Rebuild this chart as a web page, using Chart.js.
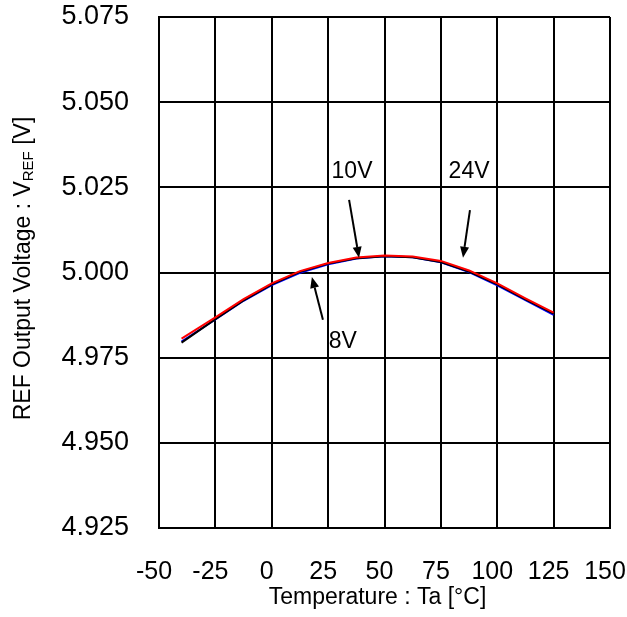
<!DOCTYPE html>
<html>
<head>
<meta charset="utf-8">
<script src="https://cdn.jsdelivr.net/npm/chart.js@4"></script>
<style>
  html, body { margin: 0; padding: 0; background: #fff; }
  #wrap { width: 627px; height: 617px; position: relative; }
</style>
</head>
<body>
<div id="wrap"><canvas id="chart"></canvas></div>
<script>
const FONT = "'Liberation Sans', Arial, Helvetica, sans-serif";

// temperature points [°C]
const temps = [-40, -25, -12.5, 0, 12.5, 25, 37.5, 50, 62.5, 75, 87.5, 100, 112.5, 125];
// REF output voltage [V] per supply voltage
const vRed = [4.9806, 4.9868, 4.9922, 4.9968, 5.0004, 5.0028, 5.0044, 5.0050, 5.0047, 5.0034, 5.0006, 4.9968, 4.9924, 4.9882];
const vBlack = [4.9794, 4.9863, 4.9918, 4.9965, 5.0002, 5.0026, 5.0042, 5.0048, 5.0045, 5.0031, 5.0003, 4.9965, 4.9921, 4.9879];
const vBlue = [4.9797, 4.9862, 4.9917, 4.9963, 4.9999, 5.0024, 5.0041, 5.0048, 5.0045, 5.0030, 5.0001, 4.9962, 4.9919, 4.9876];

const xTicks = [-50, -25, 0, 25, 50, 75, 100, 125, 150];
const yTicks = [4.925, 4.950, 4.975, 5.000, 5.025, 5.050, 5.075];

// callouts: label position, arrow tail and tip, in data units
const notes = [
  { text: "10V", at: [35.6, 5.0295], from: [34.3, 5.0213], to: [38.7, 5.0043] },
  { text: "24V", at: [87.5, 5.0295], from: [87.9, 5.0183], to: [84.8, 5.0043] },
  { text: "8V", at: [31.5, 4.9797], from: [22.7, 4.9861], to: [17.8, 4.9987] },
];

function drawArrow(ctx, x1, y1, x2, y2) {
  const ang = Math.atan2(y2 - y1, x2 - x1);
  const head = 11, half = 4.5;
  const bx = x2 - head * Math.cos(ang), by = y2 - head * Math.sin(ang);
  ctx.beginPath();
  ctx.moveTo(x1, y1);
  ctx.lineTo(bx, by);
  ctx.stroke();
  ctx.beginPath();
  ctx.moveTo(x2, y2);
  ctx.lineTo(bx + half * Math.sin(ang), by - half * Math.cos(ang));
  ctx.lineTo(bx - half * Math.sin(ang), by + half * Math.cos(ang));
  ctx.closePath();
  ctx.fill();
}

const extras = {
  id: "extras",
  afterDraw(chart) {
    const { ctx, chartArea: a } = chart;
    const xs = chart.scales.x, ys = chart.scales.y;
    ctx.save();
    ctx.fillStyle = "#000";
    ctx.strokeStyle = "#000";
    ctx.lineWidth = 2;

    // callouts
    ctx.font = "23px " + FONT;
    ctx.textAlign = "center";
    ctx.textBaseline = "middle";
    notes.forEach((n) => {
      ctx.fillText(n.text, xs.getPixelForValue(n.at[0]), ys.getPixelForValue(n.at[1]));
      drawArrow(ctx,
        xs.getPixelForValue(n.from[0]), ys.getPixelForValue(n.from[1]),
        xs.getPixelForValue(n.to[0]), ys.getPixelForValue(n.to[1]));
    });

    // x title
    ctx.textBaseline = "alphabetic";
    ctx.fillText("Temperature : Ta [°C]", (a.left + a.right) / 2 - 7, a.bottom + 76);

    // y title with subscript
    const big = "23px " + FONT, small = "15px " + FONT;
    const p1 = "REF Output Voltage : V", p2 = "REF", p3 = " [V]";
    ctx.font = big;
    const w1 = ctx.measureText(p1).width, w3 = ctx.measureText(p3).width;
    ctx.font = small;
    const w2 = ctx.measureText(p2).width;
    ctx.translate(30, (a.top + a.bottom) / 2 - 4);
    ctx.rotate(-Math.PI / 2);
    ctx.textAlign = "left";
    let x0 = -(w1 + w2 + w3) / 2;
    ctx.font = big;
    ctx.fillText(p1, x0, 0);
    ctx.font = small;
    ctx.fillText(p2, x0 + w1, 3);
    ctx.font = big;
    ctx.fillText(p3, x0 + w1 + w2, 0);
    ctx.restore();
  },
};

function lineSet(label, data, color) {
  return {
    label,
    data: temps.map((t, i) => ({ x: t, y: data[i] })),
    borderColor: color,
    backgroundColor: color,
    borderWidth: 2,
    pointRadius: 0,
    tension: 0,
    fill: false,
  };
}

window.addEventListener("DOMContentLoaded", () => {
  Chart.defaults.font.family = FONT;
  Chart.defaults.color = "#000";

  new Chart(document.getElementById("chart").getContext("2d"), {
    type: "line",
    data: {
      datasets: [
        lineSet("24V", vRed, "#ff0000"),
        lineSet("10V", vBlack, "#000000"),
        lineSet("8V", vBlue, "#0000ff"),
      ],
    },
    plugins: [extras],
    options: {
      responsive: true,
      maintainAspectRatio: false,
      animation: false,
      layout: { padding: { top: 17, right: 17, left: 0, bottom: 0 } },
      plugins: { legend: { display: false }, tooltip: { enabled: false } },
      scales: {
        x: {
          type: "linear",
          min: -50,
          max: 150,
          afterBuildTicks: (s) => { s.ticks = xTicks.map((v) => ({ value: v })); },
          afterFit: (s) => { s.height = 89; s.paddingLeft = 0; s.paddingRight = 0; },
          grid: { color: "#000", lineWidth: 2, drawTicks: false },
          border: { color: "#000", width: 2 },
          ticks: { color: "#000", font: { size: 25 }, padding: 29, labelOffset: -5, maxRotation: 0, autoSkip: false },
        },
        y: {
          min: 4.925,
          max: 5.075,
          afterBuildTicks: (s) => { s.ticks = yTicks.map((v) => ({ value: v })); },
          afterFit: (s) => { s.width = 159; s.paddingTop = 0; s.paddingBottom = 0; },
          grid: { color: "#000", lineWidth: 2, drawTicks: false },
          border: { color: "#000", width: 2 },
          ticks: { color: "#000", font: { size: 27 }, padding: 30, callback: (v) => v.toFixed(3) },
        },
      },
    },
  });
});
</script>
</body>
</html>
